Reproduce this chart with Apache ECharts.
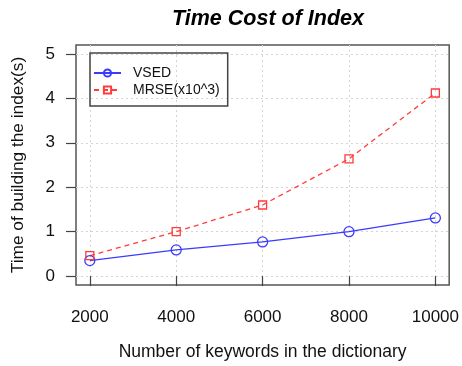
<!DOCTYPE html>
<html>
<head>
<meta charset="utf-8">
<script src="https://cdn.jsdelivr.net/npm/echarts@6/dist/echarts.min.js"></script>
<style>html,body{margin:0;padding:0;background:#fff;}#c{width:462px;height:366px;}</style>
</head>
<body>
<div id="c"></div>
<script>
var keywords = [2000, 4000, 6000, 8000, 10000];
var vsed = [0.35, 0.59, 0.77, 1.0, 1.31];
var mrse = [0.46, 1.0, 1.6, 2.64, 4.12];
var xTicks = [2000, 4000, 6000, 8000, 10000];
var yTicks = [0, 1, 2, 3, 4, 5];

var FONT = 'Liberation Sans, Arial, sans-serif';
var chart = echarts.init(document.getElementById('c'), null, {renderer: 'canvas'});
chart.setOption({
  animation: false,
  backgroundColor: '#fff',
  title: {
    text: 'Time Cost of Index',
    left: 263, top: 3, textAlign: 'center',
    textStyle: {fontFamily: FONT, fontSize: 21.5, fontWeight: 'bold', fontStyle: 'italic', color: '#000'}
  },
  grid: {left: 76, right: 12, top: 45, bottom: 81, show: true, borderColor: '#555', borderWidth: 1.5, backgroundColor: 'transparent'},
  legend: {
    left: 90, top: 53, orient: 'vertical',
    padding: [13, 8, 9, 3],
    itemGap: 3, itemWidth: 27, itemHeight: 9,
    borderColor: '#444', borderWidth: 1.5,
    textStyle: {fontFamily: FONT, fontSize: 14, color: '#111', padding: [0, 0, 0, 7]},
    data: ['VSED', 'MRSE(x10^3)']
  },
  xAxis: {
    type: 'value', min: 1680, max: 10320,
    name: 'Number of keywords in the dictionary', nameLocation: 'middle', nameGap: 58,
    nameTextStyle: {fontFamily: FONT, fontSize: 17.5, color: '#111'},
    axisLine: {show: false},
    axisTick: {show: true, inside: false, length: 10, lineStyle: {color: '#444', width: 1.2}, customValues: xTicks},
    axisLabel: {fontFamily: FONT, fontSize: 17, color: '#111', margin: 24, customValues: xTicks,
      formatter: function (v) { return String(v); }},
    splitLine: {show: true, lineStyle: {color: '#d4d4d4', type: [2, 3], width: 1}}
  },
  yAxis: {
    type: 'value', min: -0.2, max: 5.2,
    name: 'Time of building the index(s)', nameLocation: 'middle', nameGap: 49,
    nameTextStyle: {fontFamily: FONT, fontSize: 17.3, color: '#111'},
    axisLine: {show: false},
    axisTick: {show: true, inside: false, length: 10, lineStyle: {color: '#444', width: 1.2}, customValues: yTicks},
    axisLabel: {fontFamily: FONT, fontSize: 17, color: '#111', margin: 21, customValues: yTicks},
    splitLine: {show: true, lineStyle: {color: '#d4d4d4', type: [2, 3], width: 1}}
  },
  series: [
    {
      name: 'VSED', type: 'line',
      data: keywords.map(function (k, i) { return [k, vsed[i]]; }),
      symbol: 'circle', symbolSize: 10,
      lineStyle: {color: '#3b3bff', width: 1.3},
      itemStyle: {color: 'rgba(0,0,0,0)', borderColor: '#3b3bff', borderWidth: 1.3}
    },
    {
      name: 'MRSE(x10^3)', type: 'line',
      data: keywords.map(function (k, i) { return [k, mrse[i]]; }),
      symbol: 'rect', symbolSize: 8,
      lineStyle: {color: '#ff3b3b', width: 1.3, type: [5, 4]},
      itemStyle: {color: 'rgba(0,0,0,0)', borderColor: '#ff3b3b', borderWidth: 1.3}
    }
  ]
});
</script>
</body>
</html>
